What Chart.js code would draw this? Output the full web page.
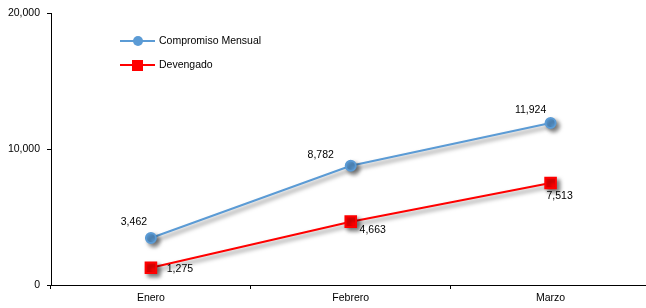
<!DOCTYPE html>
<html>
<head>
<meta charset="utf-8">
<script src="https://cdn.jsdelivr.net/npm/chart.js@4/dist/chart.umd.min.js"></script>
<style>
    html, body { margin: 0; padding: 0; background: #fff; overflow: hidden; }
    canvas { display: block; }
</style>
</head>
<body>
<canvas id="mainChart" width="660" height="308"></canvas>
<script>
// 데이터
const months = ['Enero', 'Febrero', 'Marzo'];
const compromiso = [3462, 8782, 11924];
const devengado = [1275, 4663, 7513];
const yTicks = [0, 10000, 20000];
const seriesNames = ['Compromiso Mensual', 'Devengado'];

const fontFamily = '"Liberation Sans", Arial, sans-serif';
const fontSize = 10.5;
const fmt = v => v.toLocaleString('en-US');

// 라벨 위치 (점 기준 오프셋)
const labelOffsets = [
    [[-17, -16], [-30, -11], [-20, -13]],
    [[29, 1], [22, 8], [9, 13]]
];

// 그림자
const shadowPlugin = {
    id: 'shadow',
    beforeDatasetDraw(chart) {
        const ctx = chart.ctx;
        ctx.save();
        ctx.shadowColor = 'rgba(0,0,0,0.5)';
        ctx.shadowBlur = 4;
        ctx.shadowOffsetX = 3;
        ctx.shadowOffsetY = 3;
    },
    afterDatasetDraw(chart) {
        chart.ctx.restore();
    }
};

// 데이터 라벨
const labelPlugin = {
    id: 'valueLabels',
    afterDatasetsDraw(chart) {
        const ctx = chart.ctx;
        ctx.save();
        ctx.font = fontSize + 'px ' + fontFamily;
        ctx.fillStyle = '#000';
        ctx.textAlign = 'center';
        ctx.textBaseline = 'middle';
        chart.data.datasets.forEach((ds, di) => {
            chart.getDatasetMeta(di).data.forEach((pt, i) => {
                const off = labelOffsets[di][i];
                ctx.fillText(fmt(ds.data[i]), pt.x + off[0], pt.y + off[1]);
            });
        });
        ctx.restore();
    }
};

// 범례
const legendPlugin = {
    id: 'insideLegend',
    afterDraw(chart) {
        const ctx = chart.ctx;
        ctx.save();
        ctx.font = fontSize + 'px ' + fontFamily;
        ctx.textBaseline = 'middle';
        chart.data.datasets.forEach((ds, di) => {
            const y = 41 + di * 24;
            ctx.strokeStyle = ds.borderColor;
            ctx.lineWidth = 2;
            ctx.beginPath();
            ctx.moveTo(120, y);
            ctx.lineTo(155, y);
            ctx.stroke();
            ctx.fillStyle = ds.pointBackgroundColor;
            if (ds.pointStyle === 'rect') {
                ctx.fillRect(132, y - 5, 11, 11);
            } else {
                ctx.beginPath();
                ctx.arc(138, y, 5, 0, Math.PI * 2);
                ctx.fill();
            }
            ctx.fillStyle = '#000';
            ctx.fillText(ds.label, 159, y);
        });
        ctx.restore();
    }
};

const ctx = document.getElementById('mainChart').getContext('2d');
const mainChart = new Chart(ctx, {
    type: 'line',
    data: {
        labels: months,
        datasets: [{
            label: seriesNames[0],
            data: compromiso,
            borderColor: '#5B9BD5',
            backgroundColor: '#5B9BD5',
            pointBackgroundColor: '#5B9BD5',
            pointBorderColor: '#5B9BD5',
            pointStyle: 'circle',
            pointRadius: 5,
            borderWidth: 2,
            tension: 0
        }, {
            label: seriesNames[1],
            data: devengado,
            borderColor: '#FF0000',
            backgroundColor: '#FF0000',
            pointBackgroundColor: '#FF0000',
            pointBorderColor: '#FF0000',
            pointStyle: 'rect',
            pointRadius: 7.5,
            borderWidth: 2,
            tension: 0
        }]
    },
    options: {
        responsive: false,
        animation: false,
        layout: { padding: { left: 0, top: 13, right: 6, bottom: 0 } },
        plugins: { legend: { display: false }, tooltip: { enabled: false } },
        scales: {
            x: {
                offset: true,
                grid: { offset: true, drawOnChartArea: false, color: '#000', tickLength: 4, tickColor: '#000' },
                border: { color: '#000', width: 1 },
                ticks: { color: '#000', font: { family: fontFamily, size: fontSize }, padding: 3 },
                afterFit(scale) { scale.height = 23; }
            },
            y: {
                min: 0,
                max: 20000,
                afterBuildTicks(scale) { scale.ticks = yTicks.map(v => ({ value: v })); },
                grid: { drawOnChartArea: false, color: '#000', tickLength: 4 },
                border: { color: '#000', width: 1 },
                ticks: { color: '#000', font: { family: fontFamily, size: fontSize }, padding: 7, callback: v => fmt(v) },
                afterFit(scale) { scale.width = 51; }
            }
        }
    },
    plugins: [shadowPlugin, labelPlugin, legendPlugin]
});
</script>
</body>
</html>
